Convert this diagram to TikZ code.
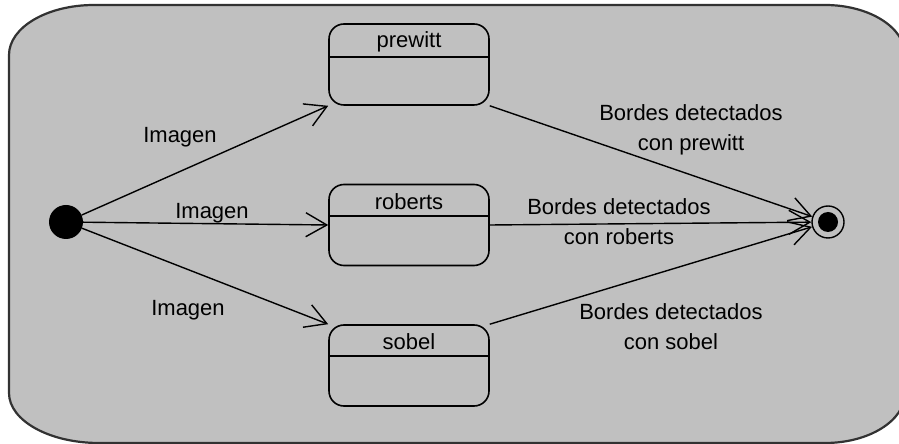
\documentclass[tikz,border=0pt]{standalone}
\usepackage{fontspec}
\setmainfont{Liberation Sans}
\usetikzlibrary{arrows.meta}
\definecolor{bg}{RGB}{192,192,192}
\definecolor{bord}{RGB}{50,50,50}
\begin{document}
\begin{tikzpicture}[x=1pt,y=1pt,
  statebox/.style={draw, line width=1.6pt, rounded corners=15pt, minimum width=160pt, minimum height=81pt, inner sep=0pt},
  lbl/.style={font=\fontsize{22}{30}\selectfont, align=center, inner sep=0pt},
  trans/.style={line width=1.4pt, -{Straight Barb[length=21pt,width=24pt,line width=1.4pt]}},
  divider/.style={line width=1.6pt}
]
\useasboundingbox (0,0) rectangle (899,444);
\fill[white] (0,0) rectangle (899,444);
\begin{scope}
\clip (0,0) rectangle (899,444);
\filldraw[fill=bg, draw=bord, line width=2.2pt] (94,439) -- (825,439)
  arc[start angle=90,end angle=0,x radius=80,y radius=50] -- (905,51)
  arc[start angle=0,end angle=-90,x radius=80,y radius=50] -- (99,1)
  arc[start angle=270,end angle=180,x radius=90,y radius=50] -- (9,389)
  arc[start angle=180,end angle=90,x radius=85,y radius=50] -- cycle;
\end{scope}

% states
\node[statebox] (prewitt) at (409,379.5) {};
\node[lbl] (prewittname) at (409,402) {prewitt};
\coordinate (pdiv) at (0,387);
\draw[divider] (prewitt.west |- pdiv) -- (prewitt.east |- pdiv);

\node[statebox] (roberts) at (409,219) {};
\node[lbl] (robertsname) at (409,242) {roberts};
\coordinate (rdiv) at (0,228);
\draw[divider] (roberts.west |- rdiv) -- (roberts.east |- rdiv);

\node[statebox] (sobel) at (409,78.5) {};
\node[lbl] (sobelname) at (409,102) {sobel};
\coordinate (sdiv) at (0,88);
\draw[divider] (sobel.west |- sdiv) -- (sobel.east |- sdiv);

% initial and final
\node[circle, fill=black, minimum size=34pt, inner sep=0pt] (init) at (66,222) {};
\node[circle, draw=black, line width=1.4pt, minimum size=32pt, inner sep=0pt] (final) at (828,222) {};
\node[circle, fill=black, minimum size=20pt, inner sep=0pt] (finaldot) at (final) {};

% transitions
\draw[trans] (init) -- (prewitt.south west);
\draw[trans] (init) -- (roberts.west);
\draw[trans] (init) -- (sobel.north west);
\draw[trans] (prewitt.south east) -- (final);
\draw[trans] (roberts.east) -- (final);
\draw[trans] (sobel.north east) -- (final);

% labels
\node[lbl] (l1) at (180,307) {Imagen};
\node[lbl] (l2) at (212,231) {Imagen};
\node[lbl] (l3) at (188,134) {Imagen};
\node[lbl] (l4) at (691,314) {Bordes detectados\\con prewitt};
\node[lbl] (l5) at (619,222) {Bordes detectados\\con roberts};
\node[lbl] (l6) at (671,117) {Bordes detectados\\con sobel};
\end{tikzpicture}
\end{document}
